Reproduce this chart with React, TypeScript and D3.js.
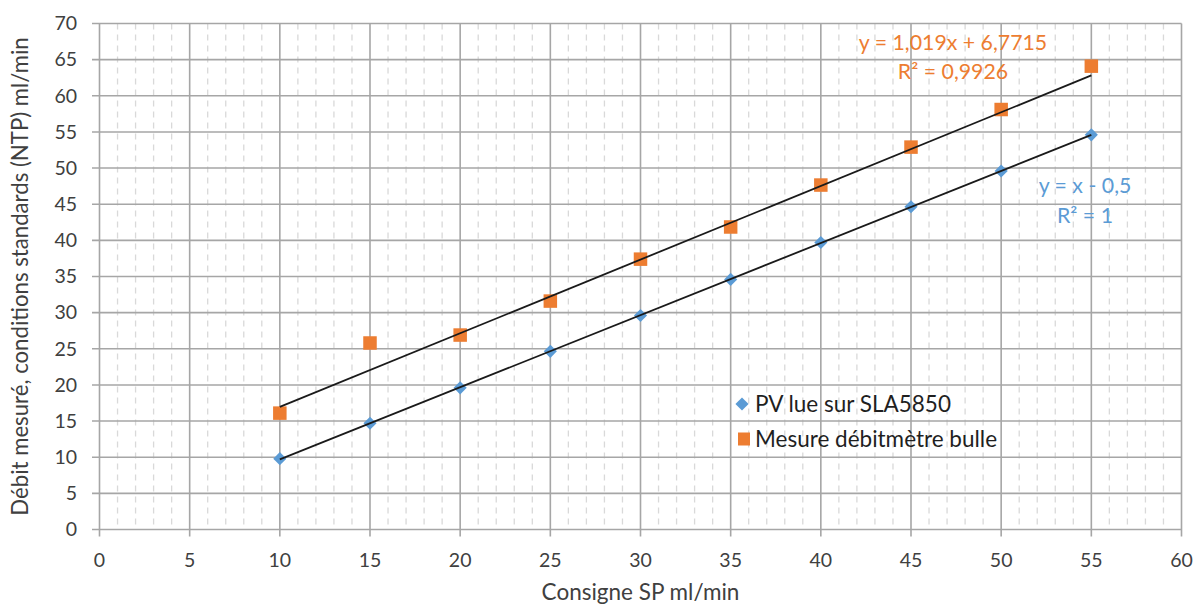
import React, { useEffect } from "react";
import * as d3 from "d3";

const consigne = [10, 15, 20, 25, 30, 35, 40, 45, 50, 55];
const pvLue = [9.8, 14.7, 19.6, 24.65, 29.6, 34.6, 39.7, 44.65, 49.6, 54.6];
const mesureBulle = [16.1, 25.8, 26.9, 31.6, 37.4, 41.85, 47.65, 52.9, 58.1, 64.1];
const bulleTrend = [1.019, 6.7715]; // slope, intercept from chart label
const xTicks = [0, 5, 10, 15, 20, 25, 30, 35, 40, 45, 50, 55, 60];
const yTicks = [0, 5, 10, 15, 20, 25, 30, 35, 40, 45, 50, 55, 60, 65, 70];
const minorX = d3.range(0, 61, 1).filter((v) => v % 5 !== 0);

const seriesNames = ["PV lue sur SLA5850", "Mesure débitmètre bulle"];
const pvLabel = ["y = x - 0,5", "R² = 1"];
const bulleLabel = ["y = 1,019x + 6,7715", "R² = 0,9926"];

const W = 1204;
const H = 606;
const FONT = "Lato, 'Open Sans', sans-serif";
const BLUE = "#5b9bd5";
const ORANGE = "#ed7d31";
const TXT = "#404040";

function linreg(xs: number[], ys: number[]) {
  const mx = d3.mean(xs) as number;
  const my = d3.mean(ys) as number;
  let num = 0;
  let den = 0;
  xs.forEach((x, i) => {
    num += (x - mx) * (ys[i] - my);
    den += (x - mx) * (x - mx);
  });
  const m = num / den;
  return [m, my - m * mx];
}

export default function App() {
  useEffect(() => {
    document.body.style.margin = "0";
  }, []);

  const x = d3.scaleLinear().domain([0, 60]).range([99.5, 1181.5]);
  const y = d3.scaleLinear().domain([0, 70]).range([529.5, 23.5]);

  const pvTrend = linreg(consigne, pvLue);
  const x0 = d3.min(consigne) as number;
  const x1 = d3.max(consigne) as number;
  const seg = d3.line<[number, number]>().x((d) => x(d[0])).y((d) => y(d[1]));
  const pvPts: [number, number][] = [
    [x0, pvTrend[0] * x0 + pvTrend[1]],
    [x1, pvTrend[0] * x1 + pvTrend[1]],
  ];
  const bPts: [number, number][] = [
    [x0, bulleTrend[0] * x0 + bulleTrend[1]],
    [x1, bulleTrend[0] * x1 + bulleTrend[1]],
  ];

  const diamond = d3.symbol().type(d3.symbolDiamond2).size(110)();
  const sq = 13.5;

  return (
    <svg width={W} height={H} style={{ display: "block", background: "#fff" }}>
      {minorX.map((v) => (
        <line
          key={"mx" + v}
          x1={x(v)}
          x2={x(v)}
          y1={y(70)}
          y2={y(0)}
          stroke="#d9d9d9"
          strokeWidth={1.3}
          strokeDasharray="6,5"
        />
      ))}
      {yTicks.map((v) => (
        <line
          key={"hy" + v}
          x1={x(0) - 7.5}
          x2={x(60)}
          y1={y(v)}
          y2={y(v)}
          stroke="#a6a6a6"
          strokeWidth={1.6}
        />
      ))}
      {xTicks.map((v) => (
        <line
          key={"vx" + v}
          x1={x(v)}
          x2={x(v)}
          y1={y(70)}
          y2={y(0) + 7}
          stroke="#a6a6a6"
          strokeWidth={1.6}
        />
      ))}
      {yTicks.map((v) => (
        <text
          key={"ty" + v}
          x={77}
          y={y(v)}
          dy="0.35em"
          textAnchor="end"
          fontFamily={FONT}
          fontSize={19.5}
          fill={TXT}
        >
          {v}
        </text>
      ))}
      {xTicks.map((v) => (
        <text
          key={"tx" + v}
          x={x(v)}
          y={560}
          dy="0.35em"
          textAnchor="middle"
          fontFamily={FONT}
          fontSize={19.5}
          fill={TXT}
        >
          {v}
        </text>
      ))}
      <text
        x={(x(0) + x(60)) / 2}
        y={592}
        dy="0.35em"
        textAnchor="middle"
        fontFamily={FONT}
        fontSize={22.5}
        fill={TXT}
      >
        Consigne SP ml/min
      </text>
      <text
        transform={`translate(20,${(y(0) + y(70)) / 2}) rotate(-90)`}
        dy="0.35em"
        textAnchor="middle"
        fontFamily={FONT}
        fontSize={22.2}
        fill={TXT}
      >
        Débit mesuré, conditions standards (NTP) ml/min
      </text>
      {consigne.map((c, i) => (
        <rect
          key={"b" + i}
          x={x(c) - sq / 2}
          y={y(mesureBulle[i]) - sq / 2}
          width={sq}
          height={sq}
          fill={ORANGE}
        />
      ))}
      {consigne.map((c, i) => (
        <path
          key={"p" + i}
          d={diamond as string}
          transform={`translate(${x(c)},${y(pvLue[i])})`}
          fill={BLUE}
        />
      ))}
      <path d={seg(bPts) as string} stroke="#1a1a1a" strokeWidth={1.8} fill="none" />
      <path d={seg(pvPts) as string} stroke="#1a1a1a" strokeWidth={1.8} fill="none" />
      <text x={953} y={50} textAnchor="middle" fontFamily={FONT} fontSize={21.3} fill={ORANGE}>
        {bulleLabel[0]}
      </text>
      <text x={953} y={79} textAnchor="middle" fontFamily={FONT} fontSize={21.3} fill={ORANGE}>
        {bulleLabel[1]}
      </text>
      <text x={1085} y={193} textAnchor="middle" fontFamily={FONT} fontSize={21.3} fill={BLUE}>
        {pvLabel[0]}
      </text>
      <text x={1085} y={223} textAnchor="middle" fontFamily={FONT} fontSize={21.3} fill={BLUE}>
        {pvLabel[1]}
      </text>
      <path d={diamond as string} transform="translate(742,404)" fill={BLUE} />
      <text x={755} y={404} dy="0.35em" fontFamily={FONT} fontSize={22.5} fill="#1f1f1f">
        {seriesNames[0]}
      </text>
      <rect x={744 - 6} y={439 - 6.5} width={12} height={13} fill={ORANGE} />
      <text x={755} y={439} dy="0.35em" fontFamily={FONT} fontSize={22.5} fill="#1f1f1f">
        {seriesNames[1]}
      </text>
    </svg>
  );
}
